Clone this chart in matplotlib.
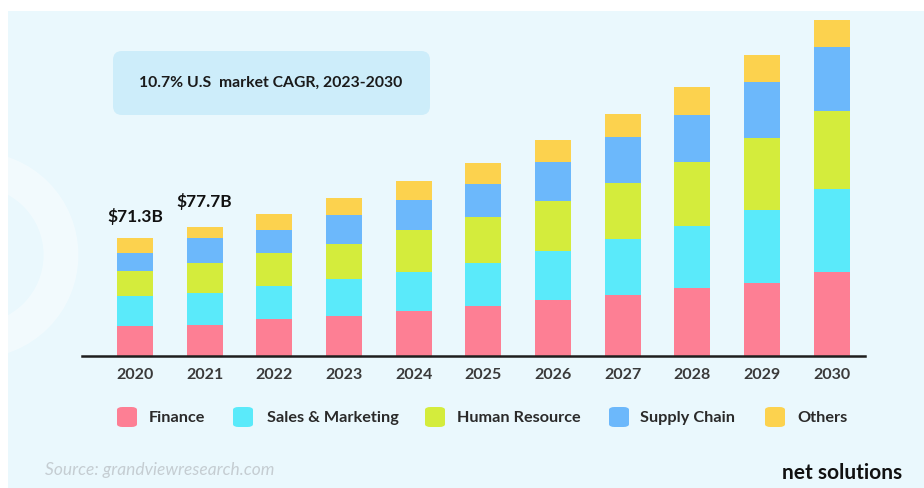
import matplotlib
matplotlib.use("Agg")
import matplotlib.pyplot as plt
from matplotlib.patches import FancyBboxPatch, Rectangle, Circle
import numpy as np

years = ["2020", "2021", "2022", "2023", "2024", "2025", "2026", "2027", "2028", "2029", "2030"]
series_names = ["Finance", "Sales & Marketing", "Human Resource", "Supply Chain", "Others"]
finance = [17.6, 18.6, 22.1, 24.1, 26.7, 30.1, 33.8, 36.8, 41.2, 43.9, 50.9]
sales_marketing = [18.2, 19.2, 19.8, 22.2, 24.2, 26.2, 29.7, 33.9, 37.0, 44.4, 50.1]
human_resource = [15.2, 18.2, 20.2, 21.4, 25.3, 27.9, 30.3, 33.8, 38.8, 43.5, 47.3]
supply_chain = [11.1, 15.0, 14.1, 17.6, 18.2, 19.8, 23.2, 28.2, 28.5, 33.9, 38.6]
others = [9.2, 6.7, 9.5, 10.1, 11.1, 12.9, 13.8, 13.6, 17.2, 16.4, 16.5]
annot_labels = ["$71.3B", "$77.7B"]
annot_values = [71.3, 77.7]
title_text = "10.7% U.S  market CAGR, 2023-2030"
source_text = "Source: grandviewresearch.com"
brand_text = "net solutions"

colors = ["#fd7f94", "#5aeafa", "#d4ec3c", "#6cb8fb", "#fcd24e"]
bg = "#eaf8fd"
FONT = "Lato"

W, H = 924, 489
fig = plt.figure(figsize=(W / 100, H / 100), dpi=100)
fig.patch.set_facecolor("white")

# background panel (white strip at top and left) + faint decorative ring
bg_ax = fig.add_axes([8 / W, 0, 1 - 8 / W, 1 - 12 / H], zorder=-5)
bg_ax.set_xlim(8, W)
bg_ax.set_ylim(H, 12)
bg_ax.set_facecolor(bg)
for s in bg_ax.spines.values():
    s.set_visible(False)
bg_ax.set_xticks([])
bg_ax.set_yticks([])
bg_ax.add_patch(Circle((-25, 256), 86, facecolor="none", edgecolor="white",
                       linewidth=25, alpha=0.4))
bg_ax.add_patch(FancyBboxPatch((113, 52), 430 - 113, 116 - 52,
                               boxstyle="round,pad=0,rounding_size=9",
                               facecolor="#cdedfa", edgecolor="none"))

# main axes
base_px = 356.5
top_px = 15.0
scale = 1.65
left_px, right_px = 82.0, 865.0
ax = fig.add_axes([left_px / W, 1 - base_px / H, (right_px - left_px) / W, (base_px - top_px) / H], zorder=2)
ax.patch.set_alpha(0)
x = np.arange(len(years))
data = [finance, sales_marketing, human_resource, supply_chain, others]
bottom = np.zeros(len(years))
for vals, c in zip(data, colors):
    ax.bar(x, vals, bottom=bottom, width=0.517, color=c, edgecolor="none", zorder=2)
    bottom += np.array(vals)

ax.set_xlim(-0.76, 10.48)
ax.set_ylim(0, (base_px - top_px) / scale)
for s in ["top", "right", "left"]:
    ax.spines[s].set_visible(False)
ax.spines["bottom"].set_color("#1e1e1e")
ax.spines["bottom"].set_linewidth(1.8)
ax.set_yticks([])
ax.set_xticks(x)
ax.set_xticklabels(years, fontsize=11.5, color="#3a3a3a", fontfamily=FONT, fontweight="bold")
ax.tick_params(axis="x", length=0, pad=8)

for i, (lab, v) in enumerate(zip(annot_labels, annot_values)):
    ax.annotate(lab, (x[i], v), xytext=(0, 10 if i == 0 else 13), textcoords="offset points",
                ha="center", va="bottom", fontsize=12.5, fontweight="bold",
                color="#111111", fontfamily=FONT)

fig.text(271 / W, 1 - 83 / H, title_text, ha="center", va="center", fontsize=11.3,
         color="#1a1a1a", fontfamily=FONT, fontweight="bold")

# legend
sq_x = [117, 233, 425, 609, 765]
txt_x = [149, 267, 457, 640, 797]
ly = 418
for name, c, sx, tx in zip(series_names, colors, sq_x, txt_x):
    fig.patches.append(FancyBboxPatch((sx / W, 1 - (ly + 10) / H), 20 / W, 20 / H,
                                      boxstyle="round,pad=0,rounding_size=0.006",
                                      transform=fig.transFigure, facecolor=c,
                                      edgecolor="none", zorder=3))
    fig.text(tx / W, 1 - ly / H, name, ha="left", va="center", fontsize=11.7,
             color="#2a2a2a", fontfamily=FONT, fontweight="bold")

fig.text(45 / W, 1 - 470 / H, source_text, ha="left", va="center", fontsize=12.5,
         color="#c5cdd2", fontfamily=FONT, style="italic")
fig.text(902 / W, 1 - 473 / H, brand_text, ha="right", va="center", fontsize=15,
         color="#111111", fontfamily=FONT, fontweight="bold")

fig.savefig("out.png", dpi=100)
